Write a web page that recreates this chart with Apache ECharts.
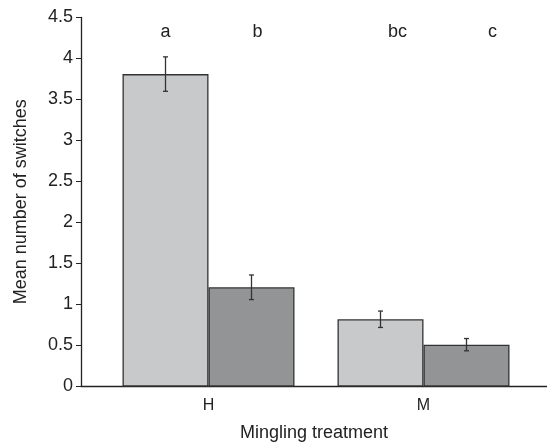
<!DOCTYPE html>
<html>
<head>
<meta charset="utf-8">
<script src="https://cdn.jsdelivr.net/npm/echarts@6/dist/echarts.min.js"></script>
<style>
  html, body { margin: 0; padding: 0; background: #fff; }
  #chart { width: 547px; height: 447px; }
</style>
</head>
<body>
<div id="chart"></div>
<script>
// data
const categories = ['H', 'M'];
const lightMeans = [3.81, 0.82];
const lightErrs = [0.21, 0.10];
const darkMeans = [1.21, 0.51];
const darkErrs = [0.15, 0.075];
const letters = [['a', 'b'], ['bc', 'c']]; // [category][series]
const yTicks = [0, 0.5, 1, 1.5, 2, 2.5, 3, 3.5, 4, 4.5];

// styles
const FONT = 'Liberation Sans, Arial, sans-serif';
const INK = '#222';
const LIGHT = '#c8c9cb';
const DARK = '#939496';
const LETTER_Y = 4.32;
const letterShift = [[0, 6], [17, 26]]; // px nudges, same as printed figure

const myChart = echarts.init(document.getElementById('chart'));

// one bar = 40% of a category band
const barFrac = 0.4;

function errorBars(seriesIdx, means, errs) {
    return {
        type: 'custom',
        xAxisIndex: 1,
        yAxisIndex: 1,
        z: 5,
        silent: true,
        data: means.map((m, i) => [i, m - errs[i], m + errs[i]]),
        renderItem: (params, api) => {
            const band = api.size([1, 0])[0];
            const bw = band * barFrac;
            const c = api.coord([api.value(0), 0]);
            const x = c[0] + (seriesIdx === 0 ? -bw / 2 : bw / 2);
            const lo = api.coord([api.value(0), api.value(1)])[1];
            const hi = api.coord([api.value(0), api.value(2)])[1];
            const st = { stroke: '#333', lineWidth: 1.3 };
            return {
                type: 'group',
                children: [
                    { type: 'line', shape: { x1: x, y1: lo, x2: x, y2: hi }, style: st },
                    { type: 'line', shape: { x1: x - 2.5, y1: lo, x2: x + 2.5, y2: lo }, style: st },
                    { type: 'line', shape: { x1: x - 2.5, y1: hi, x2: x + 2.5, y2: hi }, style: st }
                ]
            };
        }
    };
}

const letterData = [];
letters.forEach((pair, ci) => pair.forEach((t, si) => letterData.push([ci, LETTER_Y, si, t])));

let option = {
    animation: false,
    grid: [
        { left: 81, right: 0, top: 17.5, bottom: 60.5 },
        { left: 101, right: 16, top: 17.5, bottom: 60.5 }
    ],
    xAxis: [
        {
            // full-width baseline + axis title
            gridIndex: 0,
            type: 'value',
            min: 0,
            max: 1,
            axisLine: { show: true, lineStyle: { color: INK, width: 1.3 } },
            axisTick: { show: false },
            axisLabel: { show: false },
            splitLine: { show: false },
            name: 'Mingling treatment',
            nameLocation: 'middle',
            nameGap: 38,
            nameTextStyle: { fontFamily: FONT, fontSize: 18, color: INK }
        },
        {
            gridIndex: 1,
            type: 'category',
            data: categories,
            axisLine: { show: false },
            axisTick: { show: false },
            axisLabel: { fontFamily: FONT, fontSize: 16, color: INK, margin: 11 }
        }
    ],
    yAxis: [
        {
            gridIndex: 0,
            type: 'value',
            min: 0,
            max: 4.5,
            interval: 0.5,
            axisLine: { show: true, lineStyle: { color: INK, width: 1.3 } },
            axisTick: { show: true, length: 5, lineStyle: { color: INK } },
            axisLabel: {
                fontFamily: FONT, fontSize: 18, color: INK, margin: 8,
                formatter: v => yTicks.includes(v) ? String(v) : ''
            },
            splitLine: { show: false },
            name: 'Mean number of switches',
            nameLocation: 'middle',
            nameGap: 51,
            nameTextStyle: { fontFamily: FONT, fontSize: 18, color: INK }
        },
        {
            gridIndex: 1,
            type: 'value',
            min: 0,
            max: 4.5,
            show: false
        }
    ],
    series: [
        {
            type: 'bar',
            xAxisIndex: 1,
            yAxisIndex: 1,
            data: lightMeans,
            barWidth: '40%',
            barGap: '0%',
            itemStyle: { color: LIGHT, borderColor: '#333', borderWidth: 1.3 }
        },
        {
            type: 'bar',
            xAxisIndex: 1,
            yAxisIndex: 1,
            data: darkMeans,
            barWidth: '40%',
            itemStyle: { color: DARK, borderColor: '#333', borderWidth: 1.3 }
        },
        errorBars(0, lightMeans, lightErrs),
        errorBars(1, darkMeans, darkErrs),
        {
            type: 'custom',
            xAxisIndex: 1,
            yAxisIndex: 1,
            silent: true,
            data: letterData,
            renderItem: (params, api) => {
                const band = api.size([1, 0])[0];
                const bw = band * barFrac;
                const ci = api.value(0);
                const si = api.value(2);
                const p = api.coord([ci, api.value(1)]);
                const t = letterData[params.dataIndex][3];
                return {
                    type: 'text',
                    x: p[0] + (si === 0 ? -bw / 2 : bw / 2) + letterShift[ci][si],
                    y: p[1],
                    style: {
                        text: t,
                        fontFamily: FONT,
                        fontSize: 18,
                        fill: INK,
                        align: 'center',
                        verticalAlign: 'middle'
                    }
                };
            }
        }
    ]
};

myChart.setOption(option);
</script>
</body>
</html>
